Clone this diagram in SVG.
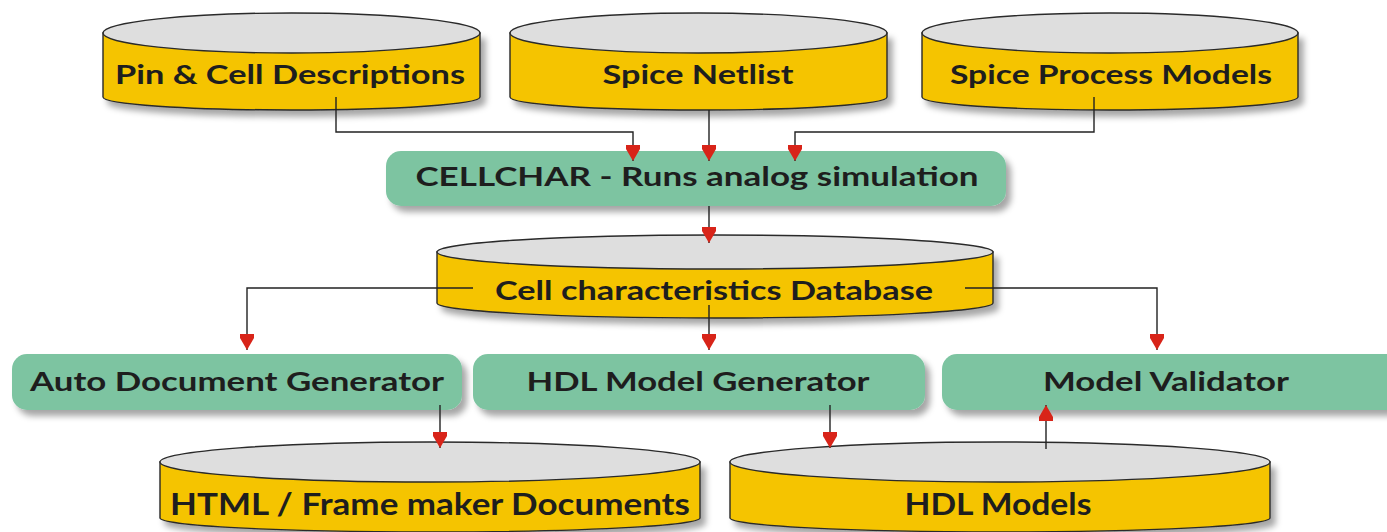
<svg xmlns="http://www.w3.org/2000/svg" width="1387" height="532" viewBox="0 0 1387 532">
<style>
.body{fill:#F5C400;stroke:#2a2a2a;stroke-width:1.4}
.top{fill:#DEDEDE;stroke:#2a2a2a;stroke-width:1.4}
.box{fill:#7DC4A1}
.t{font-family:Lato,"Open Sans","Liberation Sans",sans-serif;font-weight:bold;font-size:27px;fill:#1e1e1e;text-anchor:middle}
.big{font-size:30px}
.c{fill:none;stroke:#222;stroke-width:1.4}
</style>
<defs>
<filter id="sh" x="-5%" y="-20%" width="115%" height="160%">
<feDropShadow dx="5" dy="6" stdDeviation="3" flood-color="#000" flood-opacity="0.35"/>
</filter>
<marker id="arr" markerUnits="userSpaceOnUse" viewBox="0 -8 16 16" refX="16" refY="0" markerWidth="16" markerHeight="16" orient="auto">
<path d="M0,-7 L4,-7 L16,0 L4,7 L0,7 Z" fill="#D82419"/>
</marker>
</defs>
<rect width="1387" height="532" fill="#fff"/>

<g id="pin-cell">
<g filter="url(#sh)"><path class="body" d="M103,33 V97 A188.5,13 0 0 0 480,97 V33 Z"/></g>
<ellipse class="top" cx="291.5" cy="33" rx="188.5" ry="20"/>
<text class="t" x="290" y="84" textLength="350" lengthAdjust="spacingAndGlyphs">Pin &amp; Cell Descriptions</text>
</g>
<g id="spice-netlist">
<g filter="url(#sh)"><path class="body" d="M510,33 V97 A188.5,13 0 0 0 887,97 V33 Z"/></g>
<ellipse class="top" cx="698.5" cy="33" rx="188.5" ry="20"/>
<text class="t" x="698" y="84" textLength="191" lengthAdjust="spacingAndGlyphs">Spice Netlist</text>
</g>
<g id="spice-process">
<g filter="url(#sh)"><path class="body" d="M922,33 V97 A188,13 0 0 0 1298,97 V33 Z"/></g>
<ellipse class="top" cx="1110" cy="33" rx="188" ry="20"/>
<text class="t" x="1111" y="84" textLength="322" lengthAdjust="spacingAndGlyphs">Spice Process Models</text>
</g>

<g id="cellchar">
<rect class="box" x="386" y="151" width="620" height="55" rx="15" filter="url(#sh)"/>
<text class="t" x="697" y="186" textLength="563" lengthAdjust="spacingAndGlyphs">CELLCHAR - Runs analog simulation</text>
</g>

<g id="database">
<g filter="url(#sh)"><path class="body" d="M437,252 V303 A278,15 0 0 0 993,303 V252 Z"/></g>
<ellipse class="top" cx="715" cy="252" rx="278" ry="17"/>
<text class="t" x="714" y="300" textLength="438" lengthAdjust="spacingAndGlyphs">Cell characteristics Database</text>
</g>

<g id="auto-doc">
<rect class="box" x="12" y="354" width="450" height="56" rx="15" filter="url(#sh)"/>
<text class="t" x="237" y="391" textLength="414" lengthAdjust="spacingAndGlyphs">Auto Document Generator</text>
</g>
<g id="hdl-gen">
<rect class="box" x="473" y="354" width="452" height="56" rx="15" filter="url(#sh)"/>
<text class="t" x="698" y="391" textLength="343" lengthAdjust="spacingAndGlyphs">HDL Model Generator</text>
</g>
<g id="validator">
<rect class="box" x="942" y="354" width="460" height="56" rx="15" filter="url(#sh)"/>
<text class="t" x="1166" y="391" textLength="246" lengthAdjust="spacingAndGlyphs">Model Validator</text>
</g>

<g id="html-docs">
<g filter="url(#sh)"><path class="body" d="M160,462 V518 A270,14 0 0 0 700,518 V462 Z"/></g>
<ellipse class="top" cx="430" cy="462" rx="270" ry="20"/>
<text class="t big" x="430" y="515" textLength="520" lengthAdjust="spacingAndGlyphs">HTML / Frame maker Documents</text>
</g>
<g id="hdl-models">
<g filter="url(#sh)"><path class="body" d="M730,462 V518 A270,14 0 0 0 1270,518 V462 Z"/></g>
<ellipse class="top" cx="1000" cy="462" rx="270" ry="20"/>
<text class="t big" x="998" y="515" textLength="187" lengthAdjust="spacingAndGlyphs">HDL Models</text>
</g>

<g id="connectors">
<path class="c" d="M336,97 V132 H633 V161" marker-end="url(#arr)"/>
<path class="c" d="M709,110 V161" marker-end="url(#arr)"/>
<path class="c" d="M1094,97 V132 H795 V161" marker-end="url(#arr)"/>
<path class="c" d="M709,206 V243" marker-end="url(#arr)"/>
<path class="c" d="M473,288 H247 V350" marker-end="url(#arr)"/>
<path class="c" d="M709,305 V350" marker-end="url(#arr)"/>
<path class="c" d="M965,288 H1157 V350" marker-end="url(#arr)"/>
<path class="c" d="M440,405 V448" marker-end="url(#arr)"/>
<path class="c" d="M830,405 V448" marker-end="url(#arr)"/>
<path class="c" d="M1046,449 V405" marker-end="url(#arr)"/>
</g>
</svg>
